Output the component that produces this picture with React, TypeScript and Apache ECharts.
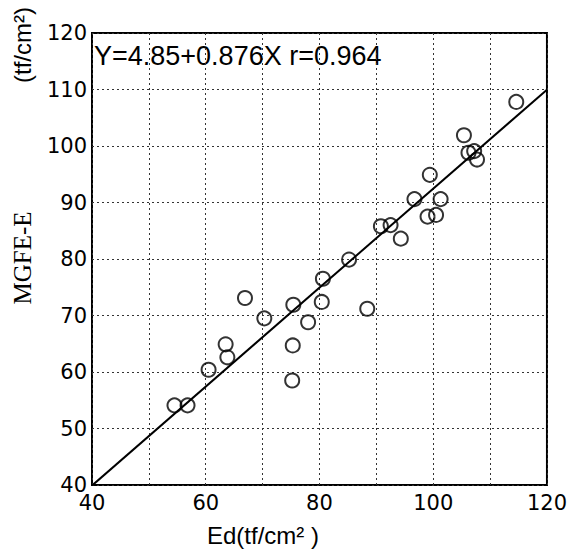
import React, { useEffect, useRef } from "react";
import * as echarts from "echarts";

const edValues = [54.5, 56.8, 60.5, 63.5, 63.8, 66.9, 70.3, 75.2, 75.3, 75.4, 78.0, 80.4, 80.6, 85.2, 88.4, 90.8, 92.5, 94.3, 96.7, 99.0, 100.5, 101.3, 99.4, 105.4, 106.2, 107.2, 107.7, 114.6];
const mgfeValues = [54.1, 54.1, 60.4, 64.9, 62.6, 73.1, 69.5, 58.5, 64.7, 71.9, 68.8, 72.4, 76.5, 79.9, 71.2, 85.8, 86.0, 83.6, 90.6, 87.5, 87.8, 90.6, 94.9, 101.9, 98.8, 99.1, 97.6, 107.8];
const regression = [4.85, 0.876]; // intercept, slope
const lineRange = [40, 120];
const axisTicks = [40, 60, 80, 100, 120];
const equationText = "Y=4.85+0.876X r=0.964";

export default function App() {
  const ref = useRef<HTMLDivElement>(null);
  useEffect(() => {
    if (!ref.current) return;
    const chart = echarts.init(ref.current, null, { renderer: "svg" });
    const points = edValues.map((x, i) => [x, mgfeValues[i]]);
    const linePts = lineRange.map((x) => [x, regression[0] + regression[1] * x]);
    const gridLine = { show: true, lineStyle: { color: "#333", type: [2, 3] as any, width: 1 } };
    chart.setOption({
      animation: false,
      backgroundColor: "#fff",
      grid: { left: 92, right: 22, top: 33, bottom: 72, show: true, borderColor: "#000", borderWidth: 2, backgroundColor: "transparent" },
      xAxis: {
        type: "value", min: 40, max: 120, interval: 10,
        axisLine: { show: false }, axisTick: { show: false },
        splitLine: gridLine,
        axisLabel: {
          color: "#000", fontFamily: "DejaVu Sans", fontSize: 21, margin: 7,
          formatter: (v: number) => (axisTicks.includes(v) ? String(v) : ""),
        },
      },
      yAxis: {
        type: "value", min: 40, max: 120, interval: 10,
        axisLine: { show: false }, axisTick: { show: false },
        splitLine: gridLine,
        axisLabel: { color: "#000", fontFamily: "DejaVu Sans", fontSize: 21, margin: 5 },
      },
      graphic: [
        { type: "text", left: 94, top: 42, style: { text: equationText, fontFamily: "Liberation Sans", fontSize: 27, fill: "#000" } },
        { type: "text", x: 22, y: 45, rotation: Math.PI / 2, style: { text: "(tf/cm²)", fontFamily: "Liberation Sans", fontSize: 24, fill: "#000", align: "center", verticalAlign: "middle" } },
        { type: "text", x: 22, y: 258, rotation: Math.PI / 2, style: { text: "MGFE-E", fontFamily: "Liberation Serif", fontSize: 25, fill: "#000", align: "center", verticalAlign: "middle" } },
        { type: "text", x: 263, y: 535, style: { text: "Ed(tf/cm² )", fontFamily: "Liberation Sans", fontSize: 24, fill: "#000", align: "center", verticalAlign: "middle" } },
      ],
      series: [
        {
          type: "line", data: linePts, symbol: "none", z: 2,
          lineStyle: { color: "#000", width: 2 },
        },
        {
          type: "scatter", data: points, symbol: "circle", symbolSize: 14, z: 3,
          itemStyle: { color: "transparent", borderColor: "#000", borderWidth: 2 },
        },
      ],
    });
    return () => chart.dispose();
  }, []);
  return <div ref={ref} style={{ position: "fixed", left: 0, top: 0, width: 570, height: 557 }} />;
}
